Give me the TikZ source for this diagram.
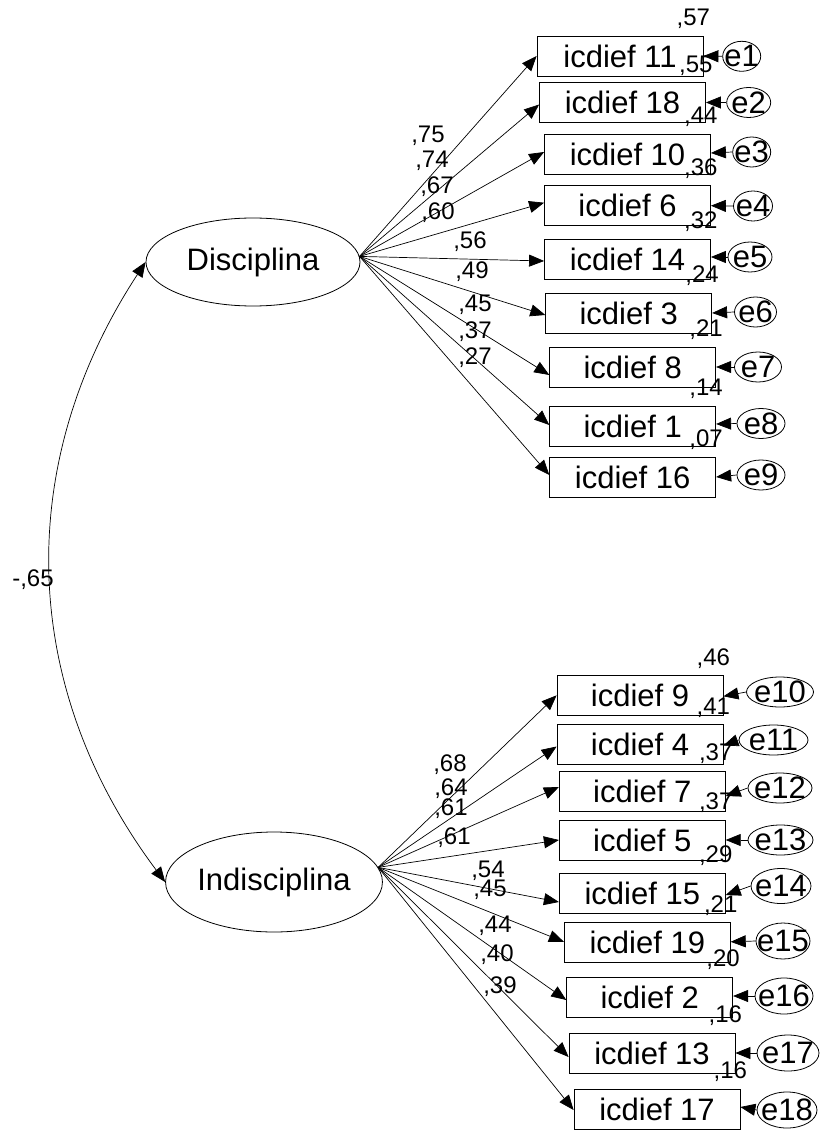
\documentclass[tikz,border=0pt]{standalone}
\usepackage{fontspec}
\setmainfont{Liberation Sans}
\usetikzlibrary{arrows.meta,shapes.geometric}

\begin{document}
\begin{tikzpicture}[x=1pt,y=-1pt,
  every node/.style={inner sep=0pt, font=\fontsize{31}{31}\selectfont},
  latent/.style={draw, ellipse, line width=0.8pt},
  obsbox/.style={draw, rectangle, line width=0.8pt, minimum width=166pt, minimum height=40pt},
  errnode/.style={draw, ellipse, line width=0.8pt, minimum height=30pt},
  coef/.style={font=\fontsize{24}{24}\selectfont},
  load/.style={-{Triangle[length=15pt,width=12pt]}, line width=0.7pt},
  covar/.style={{Triangle[length=15pt,width=12pt]}-{Triangle[length=15pt,width=12pt]}, line width=0.7pt},
]
\useasboundingbox (0,0) rectangle (820,1131);

% latent factors
\node[latent, minimum width=214pt, minimum height=88pt] (D) at (253,262) {Disciplina};
\node[latent, minimum width=212pt, minimum height=100pt] (I) at (274,882) {Indisciplina};
\coordinate (Dfan) at (D.3);
\coordinate (Ifan) at (I.8);

% covariance between the factors
\draw[covar] (D.west) to[bend right=35] (I.west);
\node[coef] (cov) at (33,580) {-,65};

% observed items, first factor
\node[obsbox] (b11) at (620,56) {icdief 11};
\node[obsbox] (b18) at (622.5,102.5) {icdief 18};
\node[obsbox] (b10) at (627.5,154) {icdief 10};
\node[obsbox] (b6) at (627.5,205.7) {icdief 6};
\node[obsbox] (b14) at (627.5,259) {icdief 14};
\node[obsbox] (b3) at (628.7,313) {icdief 3};
\node[obsbox] (b8) at (632.7,367) {icdief 8};
\node[obsbox] (b1) at (632.7,426) {icdief 1};
\node[obsbox] (b16) at (632.7,477) {icdief 16};

% observed items, second factor
\node[obsbox] (b9) at (640,695.3) {icdief 9};
\node[obsbox] (b4) at (640,744.5) {icdief 4};
\node[obsbox] (b7) at (642.3,791) {icdief 7};
\node[obsbox] (b5) at (642.3,840) {icdief 5};
\node[obsbox] (b15) at (642.3,893) {icdief 15};
\node[obsbox] (b19) at (647.3,942.8) {icdief 19};
\node[obsbox] (b2) at (649.7,997) {icdief 2};
\node[obsbox] (b13) at (652,1053) {icdief 13};
\node[obsbox] (b17) at (657,1109) {icdief 17};

% error terms
\node[errnode, minimum width=38pt, label={center:e1}] (e1) at (741.7,56.3) {};
\node[errnode, minimum width=44pt, label={center:e2}] (e2) at (748.7,102.5) {};
\node[errnode, minimum width=38pt, label={center:e3}] (e3) at (751.7,152) {};
\node[errnode, minimum width=39pt, label={center:e4}] (e4) at (753,206) {};
\node[errnode, minimum width=44pt, label={center:e5}] (e5) at (750,257) {};
\node[errnode, minimum width=42pt, label={center:e6}] (e6) at (755.5,312) {};
\node[errnode, minimum width=47pt, label={center:e7}] (e7) at (758,367) {};
\node[errnode, minimum width=48pt, label={center:e8}] (e8) at (761,423.5) {};
\node[errnode, minimum width=48pt, label={center:e9}] (e9) at (761,475) {};
\node[errnode, minimum width=67pt, label={center:e10}] (e10) at (780,692) {};
\node[errnode, minimum width=69pt, label={center:e11}] (e11) at (773.5,740) {};
\node[errnode, minimum width=64pt, label={center:e12}] (e12) at (780,788) {};
\node[errnode, minimum width=65pt, label={center:e13}] (e13) at (780.5,840) {};
\node[errnode, minimum width=60pt, minimum height=35pt, label={center:e14}] (e14) at (781,886) {};
\node[errnode, minimum width=54pt, minimum height=36pt, label={center:e15}] (e15) at (783,941) {};
\node[errnode, minimum width=58pt, minimum height=36pt, label={center:e16}] (e16) at (784,996) {};
\node[errnode, minimum width=62pt, minimum height=36pt, label={center:e17}] (e17) at (788,1053) {};
\node[errnode, minimum width=60pt, minimum height=36pt, label={center:e18}] (e18) at (787,1110) {};

% loadings, first factor
\draw[load] (Dfan) -- (b11.west);
\draw[load] (Dfan) -- ([shift={(0,2)}]b18.west);
\draw[load] (Dfan) -- ([shift={(0,-2)}]b10.west);
\draw[load] (Dfan) -- ([shift={(0,-3)}]b6.west);
\draw[load] (Dfan) -- ([shift={(0,2)}]b14.west);
\draw[load] (Dfan) -- ([shift={(0,2)}]b3.west);
\draw[load] (Dfan) -- ([shift={(0,8)}]b8.west);
\draw[load] (Dfan) -- ([shift={(0,-1)}]b1.west);
\draw[load] (Dfan) -- ([shift={(0,-2)}]b16.west);

% loadings, second factor
\draw[load] (Ifan) -- (b9.west);
\draw[load] (Ifan) -- ([shift={(0,2)}]b4.west);
\draw[load] (Ifan) -- ([shift={(0,-4)}]b7.west);
\draw[load] (Ifan) -- (b5.west);
\draw[load] (Ifan) -- ([shift={(0,9)}]b15.west);
\draw[load] (Ifan) -- ([shift={(0,-1)}]b19.west);
\draw[load] (Ifan) -- ([shift={(0,3)}]b2.west);
\draw[load] (Ifan) -- ([shift={(0,4)}]b13.west);
\draw[load] (Ifan) -- ([shift={(0,1)}]b17.west);

% error paths
\draw[load] (e1.west) -- (b11.east);
\draw[load] (e2.west) -- (b18.east);
\draw[load] (e3.west) -- ([shift={(0,-1)}]b10.east);
\draw[load] (e4.west) -- (b6.east);
\draw[load] (e5.west) -- ([shift={(0,-2)}]b14.east);
\draw[load] (e6.west) -- (b3.east);
\draw[load] (e7.west) -- (b8.east);
\draw[load] (e8.west) -- ([shift={(0,-2)}]b1.east);
\draw[load] (e9.west) -- (b16.east);
\draw[load] (e10.west) -- ([shift={(0,1)}]b9.east);
\draw[load] (e11.west) -- ([shift={(0,1)}]b4.east);
\draw[load] (e12.west) -- ([shift={(0,5)}]b7.east);
\draw[load] (e13.west) -- (b5.east);
\draw[load] (e14.west) -- ([shift={(0,2)}]b15.east);
\draw[load] (e15.west) -- ([shift={(0,-1)}]b19.east);
\draw[load] (e16.west) -- ([shift={(0,-1)}]b2.east);
\draw[load] (e17.west) -- (b13.east);
\draw[load] (e18.west) -- ([shift={(0,-2)}]b17.east);

% standardized loadings
\node[coef] (l11) at (428,136) {,75};
\node[coef] (l18) at (432,161) {,74};
\node[coef] (l10) at (437,187) {,67};
\node[coef] (l6) at (438,213) {,60};
\node[coef] (l14) at (470,242) {,56};
\node[coef] (l3) at (472,272) {,49};
\node[coef] (l8) at (475,305) {,45};
\node[coef] (l1) at (475,332) {,37};
\node[coef] (l16) at (475,358) {,27};
\node[coef] (l9) at (450,765) {,68};
\node[coef] (l4) at (451,789) {,64};
\node[coef] (l7) at (451,809) {,61};
\node[coef] (l5) at (454,838) {,61};
\node[coef] (l15) at (488,871) {,54};
\node[coef] (l19) at (490,890) {,45};
\node[coef] (l2) at (495,926) {,44};
\node[coef] (l13) at (497,955) {,40};
\node[coef] (l17) at (500,987) {,39};

% squared multiple correlations
\node[coef] (r11) at ([shift={(-10,-16.5)}]b11.north east) {,57};
\node[coef] (r18) at ([shift={(-10,-16.5)}]b18.north east) {,55};
\node[coef] (r10) at ([shift={(-10,-16.5)}]b10.north east) {,44};
\node[coef] (r6) at ([shift={(-10,-16.5)}]b6.north east) {,36};
\node[coef] (r14) at ([shift={(-10,-16.5)}]b14.north east) {,32};
\node[coef] (r3) at ([shift={(-10,-16.5)}]b3.north east) {,24};
\node[coef] (r8) at ([shift={(-10,-16.5)}]b8.north east) {,21};
\node[coef] (r1) at ([shift={(-10,-16.5)}]b1.north east) {,14};
\node[coef] (r16) at ([shift={(-10,-16.5)}]b16.north east) {,07};
\node[coef] (r9) at ([shift={(-10,-16.5)}]b9.north east) {,46};
\node[coef] (r4) at ([shift={(-10,-16.5)}]b4.north east) {,41};
\node[coef] (r7) at ([shift={(-10,-16.5)}]b7.north east) {,37};
\node[coef] (r5) at ([shift={(-10,-16.5)}]b5.north east) {,37};
\node[coef] (r15) at ([shift={(-10,-16.5)}]b15.north east) {,29};
\node[coef] (r19) at ([shift={(-10,-16.5)}]b19.north east) {,21};
\node[coef] (r2) at ([shift={(-10,-16.5)}]b2.north east) {,20};
\node[coef] (r13) at ([shift={(-10,-16.5)}]b13.north east) {,16};
\node[coef] (r17) at ([shift={(-10,-16.5)}]b17.north east) {,16};
\end{tikzpicture}
\end{document}
